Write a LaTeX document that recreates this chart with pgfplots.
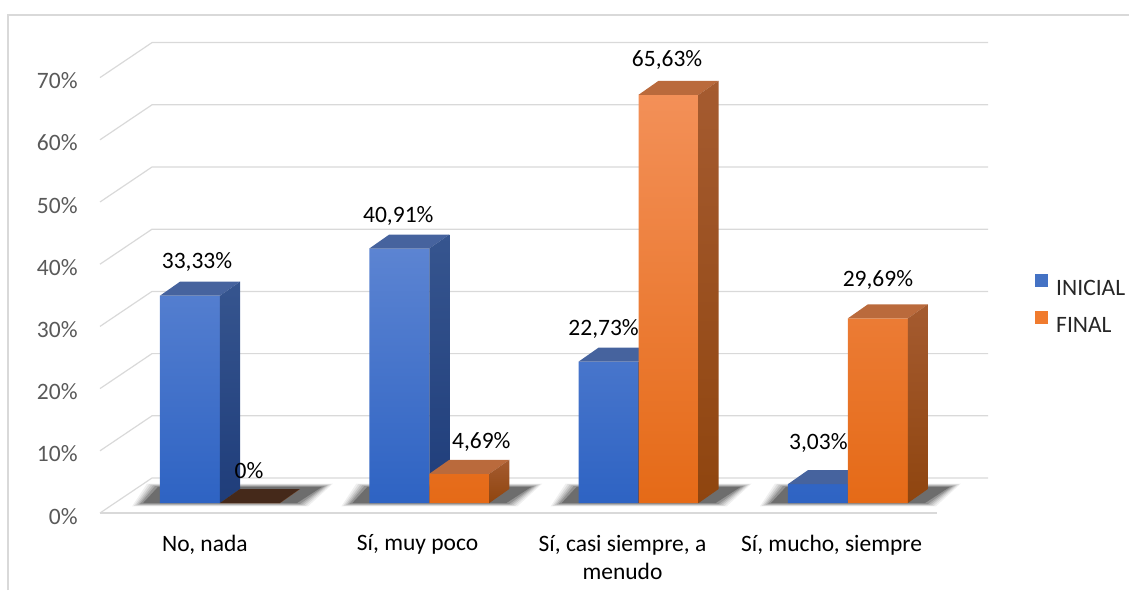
\documentclass[border=0pt]{standalone}
\usepackage{pgfplots}
\pgfplotsset{compat=1.18}
\usepackage{pgfplotstable}
\usepackage{fontspec}
\setmainfont{Carlito}

\definecolor{gridgray}{HTML}{D9D9D9}
\definecolor{tickgray}{HTML}{595959}
\definecolor{blueFT}{HTML}{5C84D2}
\definecolor{blueFB}{HTML}{2E63C3}
\definecolor{blueTop}{HTML}{46639E}
\definecolor{blueST}{HTML}{36558F}
\definecolor{blueSB}{HTML}{1F3D7A}
\definecolor{orFT}{HTML}{F39058}
\definecolor{orFB}{HTML}{E56A17}
\definecolor{orTop}{HTML}{BA6A3C}
\definecolor{orST}{HTML}{A55B30}
\definecolor{orSB}{HTML}{8F450F}
\definecolor{zeroBrown}{HTML}{45291A}
\definecolor{blueLeg}{HTML}{4472C4}
\definecolor{orLeg}{HTML}{F07B2E}

\newcommand\lblfont{\fontsize{11.75}{14}\selectfont}

% 1 px of the reference = 0.5pt; x unit = one category (209.3 px), y unit = 1% (6.22 px)
\pgfplotstableread{
cat ini fin idx idy fdx fdy
0 33.33 0 7 27 -1 25
1 40.91 4.69 -1 26.5 22 25
2 22.73 65.63 -5 26.6 -1.5 28
3 3.03 29.69 0.5 35 0 32
}\datatable

% top and side face of a bar: left x, value, top colour, side colours
\newcommand\faces[5]{%
  \pgfmathsetmacro\xa{#1}%
  \pgfmathsetmacro\xb{#1+0.2867}%
  \pgfmathsetmacro\xc{#1+0.2867+0.09556}%
  \pgfmathsetmacro\xd{#1+0.09556}%
  \pgfmathsetmacro\yb{#2+2.251}%
  \edef\tmp{%
    \noexpand\addplot[draw=none, fill=#3, forget plot] coordinates {(\xa,#2) (\xb,#2) (\xc,\yb) (\xd,\yb)} -- cycle;
    \noexpand\addplot[draw=none, top color=#4, bottom color=#5, forget plot] coordinates {(\xb,0) (\xb,#2) (\xc,\yb) (\xc,2.251)} -- cycle;}%
  \tmp}

% soft floor shadow of a group: centre x, spread in px, opacity
\newcommand\shadowlayer[3]{%
  \pgfmathsetmacro\sxa{#1-0.2867-(20+#2)/209.3}%
  \pgfmathsetmacro\sxb{#1+0.2867+(20+#2)/209.3}%
  \pgfmathsetmacro\sxc{#1+0.2867+(45+#2)/209.3}%
  \pgfmathsetmacro\sxd{#1-0.2867-(5+#2)/209.3}%
  \pgfmathsetmacro\sya{-(1+0.3*#2)/6.22}%
  \pgfmathsetmacro\syb{(17+0.3*#2)/6.22}%
  \edef\tmp{\noexpand\addplot[draw=none, fill=black, fill opacity=#3, forget plot] coordinates {(\sxa,\sya) (\sxb,\sya) (\sxc,\syb) (\sxd,\syb)} -- cycle;}%
  \tmp}
\newcommand\groupshadow[1]{%
  \shadowlayer{#1}{8}{0.06}\shadowlayer{#1}{6}{0.08}\shadowlayer{#1}{4}{0.1}%
  \shadowlayer{#1}{2}{0.12}\shadowlayer{#1}{0}{0.16}\shadowlayer{#1}{-3}{0.25}}

\begin{document}
\begin{tikzpicture}
\path[use as bounding box] (-110pt,-43.5pt) rectangle (454.5pt,251.5pt);
\begin{axis}[
    anchor=origin, at={(0,0)},
    x=104.65pt, y=3.11pt,
    xmin=-0.5733, xmax=4.3,
    ymin=-1.608, ymax=75,
    clip=false,
    axis line style={draw=none},
    major tick length=0pt,
    xtick={-0.072,0.944,1.923,2.922},
    xticklabels={{No, nada},{Sí, muy poco},{Sí, casi siempre, a\\menudo},{Sí, mucho, siempre}},
    xticklabel style={align=center, anchor=north, inner sep=0pt, yshift=-10.75pt, font=\lblfont, text=black},
    ytick={-1.608,8.392,18.392,28.392,38.392,48.392,58.392,68.392},
    yticklabels={0\%,10\%,20\%,30\%,40\%,50\%,60\%,70\%},
    yticklabel style={anchor=east, inner sep=0pt, xshift=-11pt, yshift=-1.6pt, font=\lblfont, text=tickgray},
    legend style={draw=none, fill=none, inner sep=0pt, at={(0.9167,0.4397)}, anchor=west,
        row sep=8pt, font=\lblfont, text=black!85,
        nodes={inner sep=0pt, text height=7.5pt, text depth=0pt},
        /tikz/every odd column/.append style={column sep=4pt}},
    legend cell align=left,
]
% grid on back wall and floor
\addplot[gridgray, line width=0.6pt, forget plot] coordinates {(-0.5733,-1.608) (-0.3249,4.019) (3.6694,4.019)};
\addplot[gridgray, line width=0.6pt, forget plot] coordinates {(-0.5733,8.392) (-0.3249,14.019) (3.6694,14.019)};
\addplot[gridgray, line width=0.6pt, forget plot] coordinates {(-0.5733,18.392) (-0.3249,24.019) (3.6694,24.019)};
\addplot[gridgray, line width=0.6pt, forget plot] coordinates {(-0.5733,28.392) (-0.3249,34.019) (3.6694,34.019)};
\addplot[gridgray, line width=0.6pt, forget plot] coordinates {(-0.5733,38.392) (-0.3249,44.019) (3.6694,44.019)};
\addplot[gridgray, line width=0.6pt, forget plot] coordinates {(-0.5733,48.392) (-0.3249,54.019) (3.6694,54.019)};
\addplot[gridgray, line width=0.6pt, forget plot] coordinates {(-0.5733,58.392) (-0.3249,64.019) (3.6694,64.019)};
\addplot[gridgray, line width=0.6pt, forget plot] coordinates {(-0.5733,68.392) (-0.3249,74.019) (3.6694,74.019)};
\addplot[gridgray, line width=0.6pt, forget plot] coordinates {(-0.5733,-1.608) (3.4256,-1.608)};

\groupshadow{0}\groupshadow{1}\groupshadow{2}\groupshadow{3}

% INICIAL
\addplot[ybar, bar width=0.2867, bar shift=-0.14335, draw=none, top color=blueFT, bottom color=blueFB, forget plot]
    table[x=cat, y=ini] \datatable;
\faces{-0.2867}{33.33}{blueTop}{blueST}{blueSB}
\faces{0.7133}{40.91}{blueTop}{blueST}{blueSB}
\faces{1.7133}{22.73}{blueTop}{blueST}{blueSB}
\faces{2.7133}{3.03}{blueTop}{blueST}{blueSB}

% FINAL
\addplot[ybar, bar width=0.2867, bar shift=0.14335, draw=none, top color=orFT, bottom color=orFB, forget plot]
    table[x=cat, y=fin] \datatable;
\faces{0}{0}{zeroBrown}{orST}{orSB}
\faces{1}{4.69}{orTop}{orST}{orSB}
\faces{2}{65.63}{orTop}{orST}{orSB}
\faces{3}{29.69}{orTop}{orST}{orSB}

% data labels
\addplot[draw=none, mark=none, forget plot,
    nodes near coords={\pgfmathprintnumber[fixed,precision=2,use comma,assume math mode=true]{\pgfplotspointmeta}\%},
    visualization depends on={\thisrow{idx}\as\ldx},
    visualization depends on={\thisrow{idy}\as\ldy},
    every node near coord/.append style={anchor=base, inner sep=0pt, font=\lblfont, text=black, xshift=\ldx*0.5pt, yshift=\ldy*0.5pt}]
    table[x expr=\thisrow{cat}-0.14335, y=ini] \datatable;
\addplot[draw=none, mark=none, forget plot,
    nodes near coords={\pgfmathprintnumber[fixed,precision=2,use comma,assume math mode=true]{\pgfplotspointmeta}\%},
    visualization depends on={\thisrow{fdx}\as\ldx},
    visualization depends on={\thisrow{fdy}\as\ldy},
    every node near coord/.append style={anchor=base, inner sep=0pt, font=\lblfont, text=black, xshift=\ldx*0.5pt, yshift=\ldy*0.5pt}]
    table[x expr=\thisrow{cat}+0.14335, y=fin] \datatable;

\addlegendimage{legend image code/.code={\fill[blueLeg] (0pt,0.7pt) rectangle (6pt,6.7pt);}}
\addlegendentry{INICIAL}
\addlegendimage{legend image code/.code={\fill[orLeg] (0pt,0.7pt) rectangle (6pt,6.7pt);}}
\addlegendentry{FINAL}
\end{axis}
\draw[gridgray, line width=0.75pt] (-106pt,-43.5pt) -- (-106pt,244pt) -- (454.5pt,244pt);
\end{tikzpicture}
\end{document}
